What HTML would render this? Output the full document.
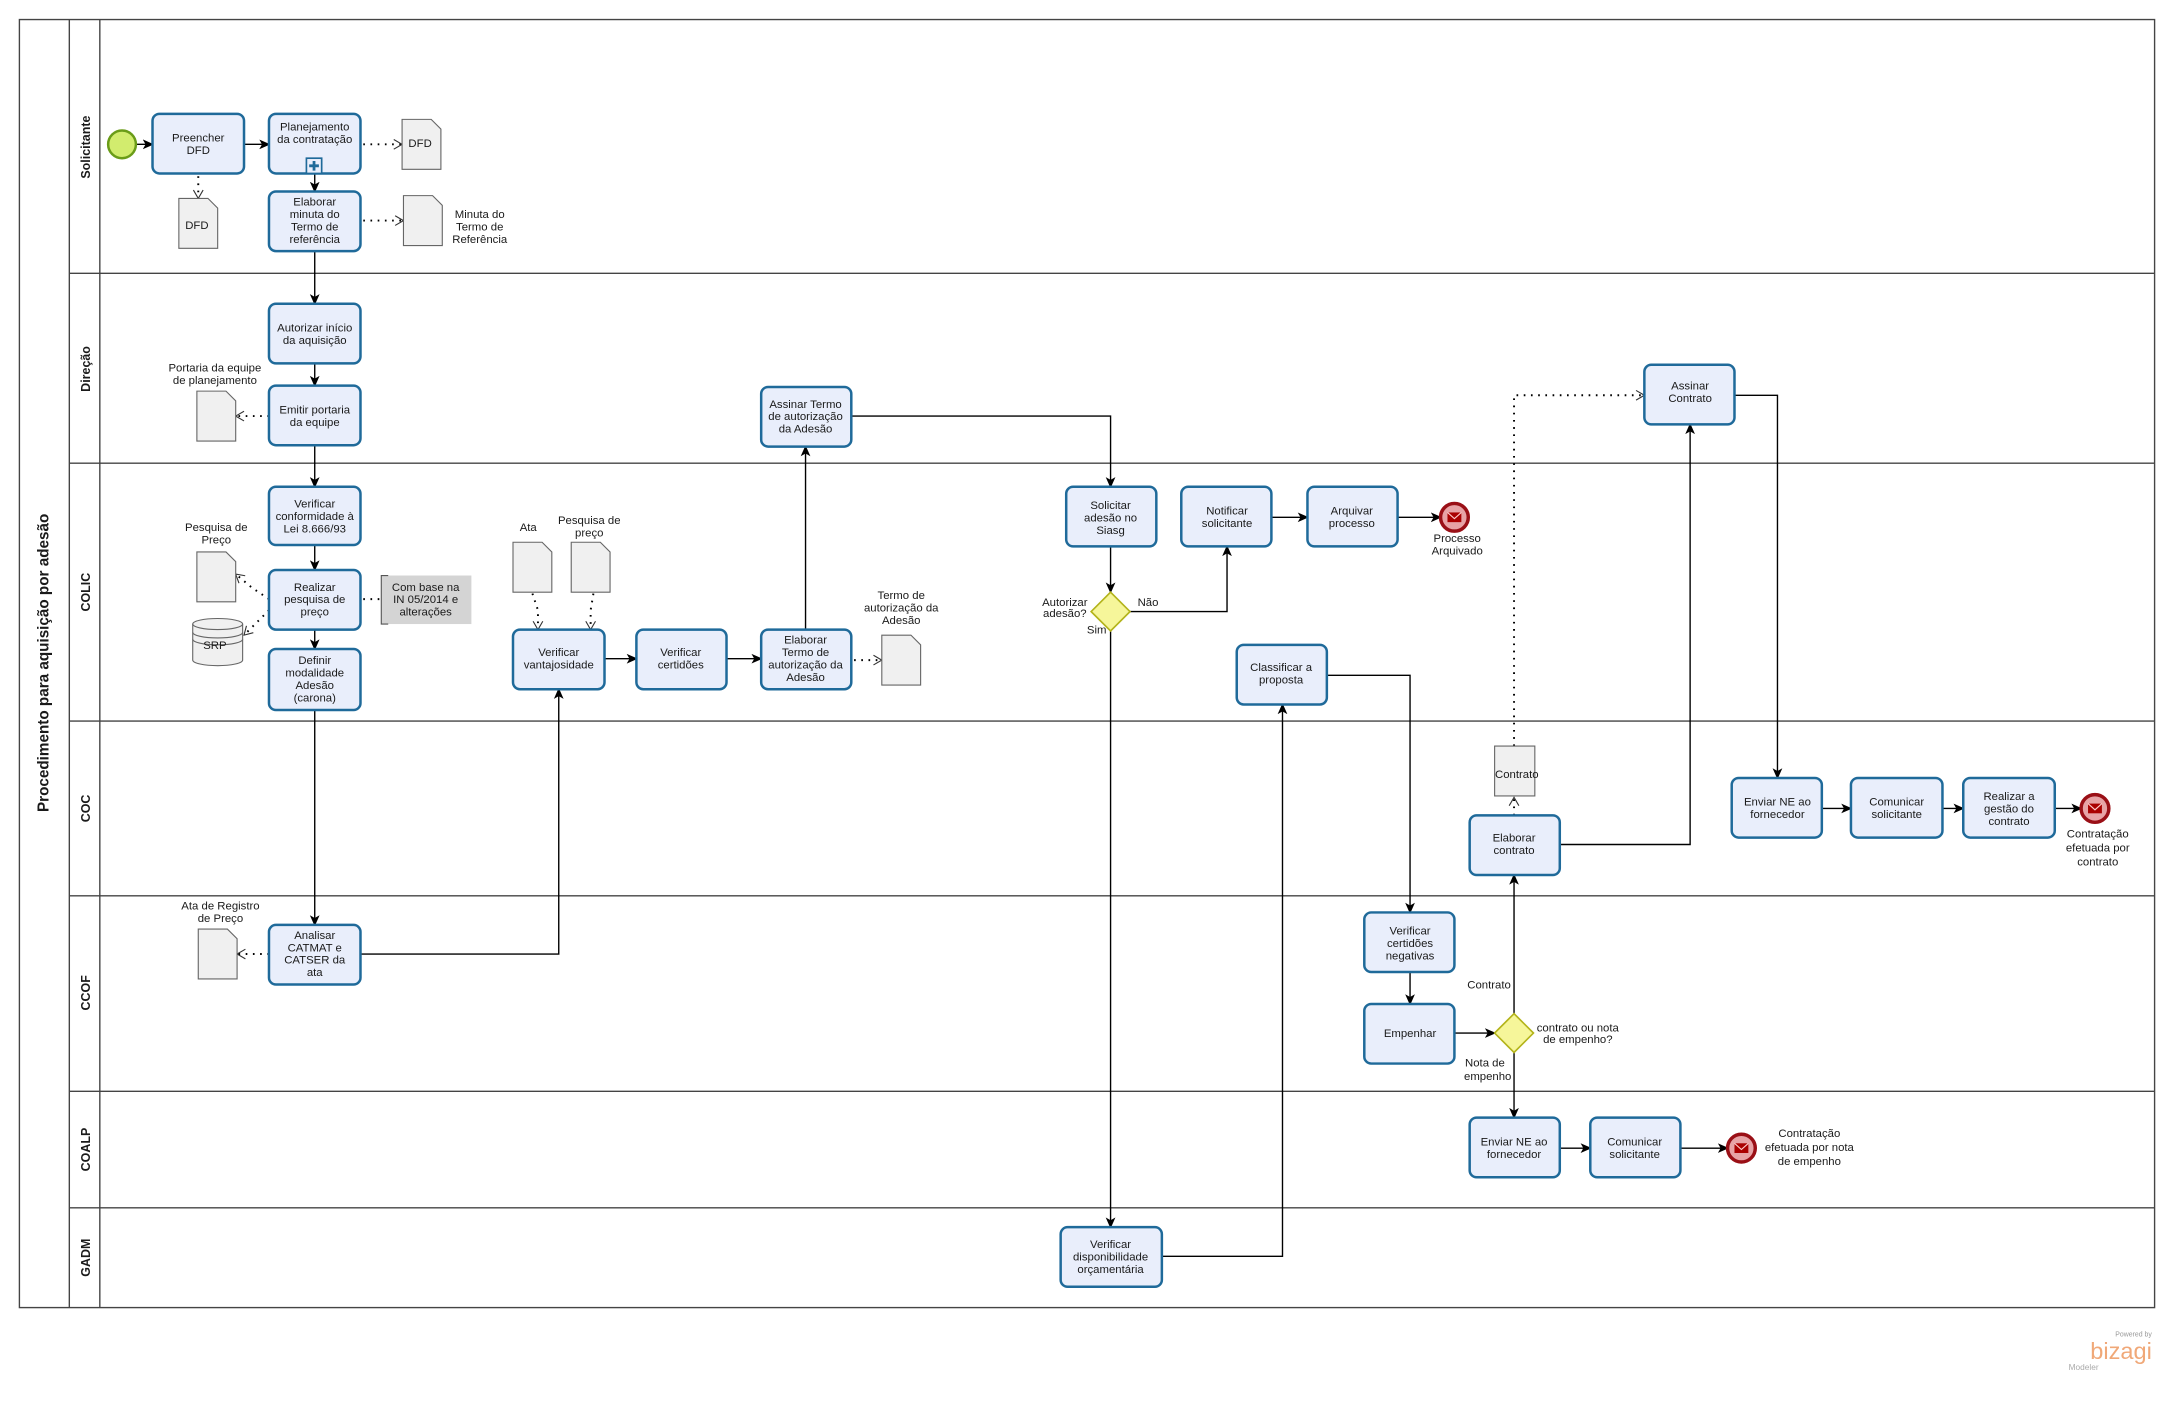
<!DOCTYPE html>
<html><head><meta charset="utf-8"><style>
html,body{margin:0;padding:0;background:#fff}
svg{display:block}
text{font-family:"Liberation Sans",sans-serif;fill:#1a1a1a}
.t{font-size:8.2px;text-anchor:middle}
.task{fill:#e9eefb;stroke:#1f6a9a;stroke-width:1.8}
.e{fill:none;stroke:#000;stroke-width:1}
.d{fill:none;stroke:#000;stroke-width:1.4;stroke-dasharray:1.2 4}
.doc{fill:#f0f0f0;stroke:#666;stroke-width:0.8}
.ln{stroke:#444;stroke-width:1;fill:none}
</style></head><body>
<svg width="2174" height="1402" viewBox="0 0 1568 1011" xmlns="http://www.w3.org/2000/svg">
<defs>
<marker id="a" markerWidth="8" markerHeight="8" refX="7" refY="4" orient="auto" markerUnits="userSpaceOnUse"><path d="M0,0.5 L8,4 L0,7.5 L2,4 Z" fill="#000"/></marker>
<marker id="o" markerWidth="8" markerHeight="8" refX="7" refY="4" orient="auto" markerUnits="userSpaceOnUse"><path d="M1,0.5 L7,4 L1,7.5" fill="none" stroke="#333" stroke-width="0.8"/></marker>
<g id="env"><rect x="-5" y="-3.5" width="10" height="7" fill="#a00"/><path d="M-5,-3.5 L0,1 L5,-3.5" stroke="#fcc" stroke-width="0.8" fill="none"/></g>
</defs>
<!-- pool -->
<rect x="14" y="14" width="1540" height="929" class="ln"/>
<line x1="50" y1="14" x2="50" y2="943" class="ln"/>
<line x1="72" y1="14" x2="72" y2="943" class="ln"/>
<g class="ln"><line x1="50" y1="197" x2="1554" y2="197"/><line x1="50" y1="334" x2="1554" y2="334"/><line x1="50" y1="520" x2="1554" y2="520"/><line x1="50" y1="646" x2="1554" y2="646"/><line x1="50" y1="787" x2="1554" y2="787"/><line x1="50" y1="871" x2="1554" y2="871"/></g>
<text transform="translate(35,478) rotate(-90)" style="font-size:11px;font-weight:bold;text-anchor:middle">Procedimento para aquisição por adesão</text>
<g style="font-size:9px;font-weight:bold;text-anchor:middle">
<text transform="translate(65,106) rotate(-90)">Solicitante</text>
<text transform="translate(65,266) rotate(-90)">Direção</text>
<text transform="translate(65,427) rotate(-90)">COLIC</text>
<text transform="translate(65,583) rotate(-90)">COC</text>
<text transform="translate(65,716) rotate(-90)">CCOF</text>
<text transform="translate(65,829) rotate(-90)">COALP</text>
<text transform="translate(65,907) rotate(-90)">GADM</text>
</g>

<!-- edges -->
<g class="e" marker-end="url(#a)">
<path d="M98,104 H110"/>
<path d="M176,104 H194"/>
<path d="M227,125 V138"/>
<path d="M227,181 V219"/>
<path d="M227,262 V278"/>
<path d="M227,321 V351"/>
<path d="M227,393 V411"/>
<path d="M227,454 V468"/>
<path d="M227,512 V667"/>
<path d="M260,688 H403 V497"/>
<path d="M436,475 H459"/>
<path d="M524,475 H549"/>
<path d="M581,454 V322"/>
<path d="M614,300 H801 V351"/>
<path d="M801,394 V427"/>
<path d="M815,441 H885 V394"/>
<path d="M917,373 H943"/>
<path d="M1008,373 H1039"/>
<path d="M801,455 V885"/>
<path d="M838,906 H925 V508"/>
<path d="M957,487 H1017 V658"/>
<path d="M1017,701 V724"/>
<path d="M1049,745 H1078"/>
<path d="M1092,731 V631"/>
<path d="M1092,759 V806"/>
<path d="M1125,828 H1147"/>
<path d="M1212,828 H1246"/>
<path d="M1125,609 H1219 V306"/>
<path d="M1251,285 H1282 V561"/>
<path d="M1314,583 H1335"/>
<path d="M1401,583 H1416"/>
<path d="M1482,583 H1501"/>
</g>
<g class="d" marker-end="url(#o)">
<path d="M262,104 H290"/>
<path d="M143,127 V143"/>
<path d="M262,159 H291"/>
<path d="M194,300 H170"/>
<path d="M194,432 L182,424 L170,414"/>
<path d="M194,440 L182,452 L176,458"/>
<path d="M384,428 L388,440 V454"/>
<path d="M428,428 L426,440 V454"/>
<path d="M616,476 H636"/>
<path d="M194,688 H171"/>
<path d="M1092,588 V575"/>
<path d="M1092,538 V285 H1186"/>
</g>
<line x1="262" y1="432" x2="275" y2="432" class="d"/>

<!-- start -->
<circle cx="88" cy="104" r="10" fill="#d2ec6e" stroke="#6a9c18" stroke-width="1.8"/>
<!-- end events -->
<g stroke="#9a0f16" stroke-width="2.5" fill="#e7a3a6">
<circle cx="1049" cy="373" r="10"/><circle cx="1511" cy="583" r="10"/><circle cx="1256" cy="828" r="10"/></g>
<use href="#env" x="1049" y="373"/><use href="#env" x="1511" y="583"/><use href="#env" x="1256" y="828"/>
<text class="t" x="1051" y="391">Processo</text><text class="t" x="1051" y="400">Arquivado</text>
<text class="t" x="1513" y="604">Contratação</text><text class="t" x="1513" y="614">efetuada por</text><text class="t" x="1513" y="624">contrato</text>
<text class="t" x="1305" y="820">Contratação</text><text class="t" x="1305" y="830">efetuada por nota</text><text class="t" x="1305" y="840">de empenho</text>

<!-- gateways -->
<g fill="#f6f69a" stroke="#b3b31a" stroke-width="1.2">
<path d="M801,427 L815,441 L801,455 L787,441 Z"/>
<path d="M1092,731 L1106,745 L1092,759 L1078,745 Z"/></g>
<text class="t" x="768" y="437">Autorizar</text><text class="t" x="768" y="445">adesão?</text>
<text class="t" x="828" y="437">Não</text><text class="t" x="791" y="457">Sim</text>
<text class="t" x="1138" y="744">contrato ou nota</text><text class="t" x="1138" y="752">de empenho?</text>
<text class="t" x="1074" y="713">Contrato</text>
<text class="t" x="1071" y="769">Nota de</text><text class="t" x="1073" y="779">empenho</text>

<!-- tasks -->
<g>
<rect class="task" x="110" y="82" width="66" height="43" rx="5"/>
<rect class="task" x="194" y="82" width="66" height="43" rx="5"/>
<rect class="task" x="194" y="138" width="66" height="43" rx="5"/>
<rect class="task" x="194" y="219" width="66" height="43" rx="5"/>
<rect class="task" x="194" y="278" width="66" height="43" rx="5"/>
<rect class="task" x="194" y="351" width="66" height="42" rx="5"/>
<rect class="task" x="194" y="411" width="66" height="43" rx="5"/>
<rect class="task" x="194" y="468" width="66" height="44" rx="5"/>
<rect class="task" x="194" y="667" width="66" height="43" rx="5"/>
<rect class="task" x="370" y="454" width="66" height="43" rx="5"/>
<rect class="task" x="459" y="454" width="65" height="43" rx="5"/>
<rect class="task" x="549" y="454" width="65" height="43" rx="5"/>
<rect class="task" x="549" y="279" width="65" height="43" rx="5"/>
<rect class="task" x="769" y="351" width="65" height="43" rx="5"/>
<rect class="task" x="852" y="351" width="65" height="43" rx="5"/>
<rect class="task" x="943" y="351" width="65" height="43" rx="5"/>
<rect class="task" x="892" y="465" width="65" height="43" rx="5"/>
<rect class="task" x="765" y="885" width="73" height="43" rx="5"/>
<rect class="task" x="984" y="658" width="65" height="43" rx="5"/>
<rect class="task" x="984" y="724" width="65" height="43" rx="5"/>
<rect class="task" x="1060" y="588" width="65" height="43" rx="5"/>
<rect class="task" x="1186" y="263" width="65" height="43" rx="5"/>
<rect class="task" x="1249" y="561" width="65" height="43" rx="5"/>
<rect class="task" x="1335" y="561" width="66" height="43" rx="5"/>
<rect class="task" x="1416" y="561" width="66" height="43" rx="5"/>
<rect class="task" x="1060" y="806" width="65" height="43" rx="5"/>
<rect class="task" x="1147" y="806" width="65" height="43" rx="5"/>
</g>
<rect x="221" y="114" width="11" height="11" fill="#e9eefb" stroke="#1f6a9a" stroke-width="1.2"/>
<path d="M226.5,116 V123 M223,119.5 H230" stroke="#1f6a9a" stroke-width="2"/>
<g class="t">
<text x="143" y="102">Preencher</text><text x="143" y="111">DFD</text>
<text x="227" y="94">Planejamento</text><text x="227" y="103">da contratação</text>
<text x="227" y="148">Elaborar</text><text x="227" y="157">minuta do</text><text x="227" y="166">Termo de</text><text x="227" y="175">referência</text>
<text x="227" y="239">Autorizar início</text><text x="227" y="248">da aquisição</text>
<text x="227" y="298">Emitir portaria</text><text x="227" y="307">da equipe</text>
<text x="227" y="366">Verificar</text><text x="227" y="375">conformidade à</text><text x="227" y="384">Lei 8.666/93</text>
<text x="227" y="426">Realizar</text><text x="227" y="435">pesquisa de</text><text x="227" y="444">preço</text>
<text x="227" y="479">Definir</text><text x="227" y="488">modalidade</text><text x="227" y="497">Adesão</text><text x="227" y="506">(carona)</text>
<text x="227" y="677">Analisar</text><text x="227" y="686">CATMAT e</text><text x="227" y="695">CATSER da</text><text x="227" y="704">ata</text>
<text x="403" y="473">Verificar</text><text x="403" y="482">vantajosidade</text>
<text x="491" y="473">Verificar</text><text x="491" y="482">certidões</text>
<text x="581" y="464">Elaborar</text><text x="581" y="473">Termo de</text><text x="581" y="482">autorização da</text><text x="581" y="491">Adesão</text>
<text x="581" y="294">Assinar Termo</text><text x="581" y="303">de autorização</text><text x="581" y="312">da Adesão</text>
<text x="801" y="367">Solicitar</text><text x="801" y="376">adesão no</text><text x="801" y="385">Siasg</text>
<text x="885" y="371">Notificar</text><text x="885" y="380">solicitante</text>
<text x="975" y="371">Arquivar</text><text x="975" y="380">processo</text>
<text x="924" y="484">Classificar a</text><text x="924" y="493">proposta</text>
<text x="801" y="900">Verificar</text><text x="801" y="909">disponibilidade</text><text x="801" y="918">orçamentária</text>
<text x="1017" y="674">Verificar</text><text x="1017" y="683">certidões</text><text x="1017" y="692">negativas</text>
<text x="1017" y="748">Empenhar</text>
<text x="1092" y="607">Elaborar</text><text x="1092" y="616">contrato</text>
<text x="1219" y="281">Assinar</text><text x="1219" y="290">Contrato</text>
<text x="1282" y="581">Enviar NE ao</text><text x="1282" y="590">fornecedor</text>
<text x="1368" y="581">Comunicar</text><text x="1368" y="590">solicitante</text>
<text x="1449" y="577">Realizar a</text><text x="1449" y="586">gestão do</text><text x="1449" y="595">contrato</text>
<text x="1092" y="826">Enviar NE ao</text><text x="1092" y="835">fornecedor</text>
<text x="1179" y="826">Comunicar</text><text x="1179" y="835">solicitante</text>
</g>

<!-- data objects -->
<g class="doc">
<path d="M290,86 H311 L318,93 V122 H290 Z"/>
<path d="M129,143 H150 L157,150 V179 H129 Z"/>
<path d="M291,141 H312 L319,148 V177 H291 Z"/>
<path d="M142,282 H163 L170,289 V318 H142 Z"/>
<path d="M142,398 H163 L170,405 V434 H142 Z"/>
<path d="M370,391 H391 L398,398 V427 H370 Z"/>
<path d="M412,391 H433 L440,398 V427 H412 Z"/>
<path d="M636,458 H657 L664,465 V494 H636 Z"/>
<path d="M143,670 H164 L171,677 V706 H143 Z"/>
<path d="M1078,538 H1107 V574 H1078 Z"/>
<path d="M139,450 V476 A18,4 0 0 0 175,476 V450"/>
<ellipse cx="157" cy="450" rx="18" ry="4"/>
<path d="M139,456 A18,4 0 0 0 175,456 M139,461 A18,4 0 0 0 175,461" fill="none"/>
</g>
<rect x="275" y="415" width="65" height="35" fill="#d4d4d4"/>
<path d="M280,415 H275 V450 H280" fill="none" stroke="#555" stroke-width="0.8"/>
<g class="t">
<text x="303" y="106">DFD</text><text x="142" y="165">DFD</text>
<text x="346" y="157">Minuta do</text><text x="346" y="166">Termo de</text><text x="346" y="175">Referência</text>
<text x="155" y="268">Portaria da equipe</text><text x="155" y="277">de planejamento</text>
<text x="156" y="383">Pesquisa de</text><text x="156" y="392">Preço</text>
<text x="155" y="468">SRP</text>
<text x="307" y="426">Com base na</text><text x="307" y="435">IN 05/2014 e</text><text x="307" y="444">alterações</text>
<text x="381" y="383">Ata</text>
<text x="425" y="378">Pesquisa de</text><text x="425" y="387">preço</text>
<text x="650" y="432">Termo de</text><text x="650" y="441">autorização da</text><text x="650" y="450">Adesão</text>
<text x="159" y="656">Ata de Registro</text><text x="159" y="665">de Preço</text>
<text x="1094" y="561">Contrato</text>
</g>
<text x="1552" y="964" style="font-size:5px;fill:#999;text-anchor:end">Powered by</text>
<text x="1552" y="980" style="font-size:17px;fill:#f0a878;text-anchor:end">bizagi</text>
<text x="1492" y="988" style="font-size:6px;fill:#aaa">Modeler</text>
</svg>
</body></html>
